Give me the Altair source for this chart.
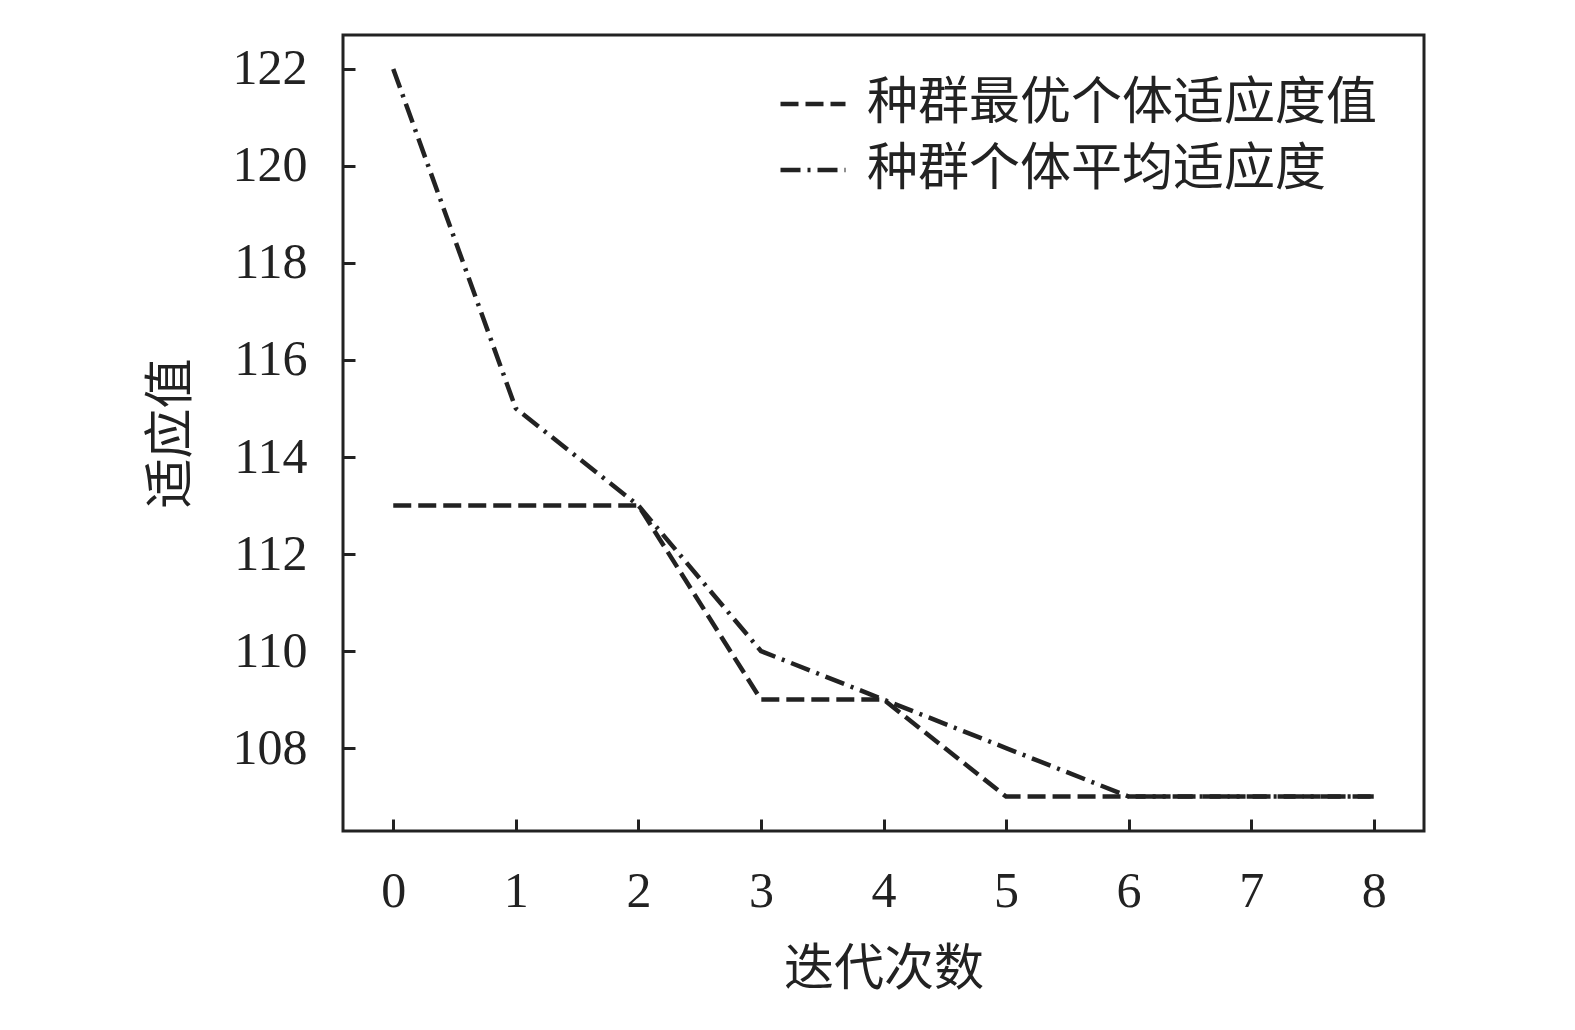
import altair as alt
import pandas as pd

iterations = [0, 1, 2, 3, 4, 5, 6, 7, 8]
best_fitness = [113, 113, 113, 109, 109, 107, 107, 107, 107]
avg_fitness = [122, 115, 113, 110, 109, 108, 107, 107, 107]
series_names = ["种群最优个体适应度值", "种群个体平均适应度"]
y_ticks = [108, 110, 112, 114, 116, 118, 120, 122]

rows = []
for i, v in zip(iterations, best_fitness):
    rows.append({"iter": i, "value": v, "series": series_names[0]})
for i, v in zip(iterations, avg_fitness):
    rows.append({"iter": i, "value": v, "series": series_names[1]})
df = pd.DataFrame(rows)

FONT = "Liberation Serif, Times New Roman, Noto Sans CJK SC"
INK = "#222222"

chart = (
    alt.Chart(df)
    .mark_line(strokeWidth=4.5, color=INK)
    .encode(
        x=alt.X(
            "iter:Q",
            scale=alt.Scale(domain=[-0.41, 8.41], nice=False, zero=False),
            axis=alt.Axis(
                title="迭代次数",
                values=iterations,
                format="d",
                offset=-12,
                tickSize=12,
                tickWidth=3,
                tickColor=INK,
                domain=False,
                grid=False,
                labelFont=FONT,
                labelFontSize=50,
                labelColor=INK,
                labelPadding=35,
                titleFont=FONT,
                titleFontSize=50,
                titleFontWeight="normal",
                titleColor=INK,
                titlePadding=28,
            ),
        ),
        y=alt.Y(
            "value:Q",
            scale=alt.Scale(domain=[106.29, 122.70], nice=False, zero=False),
            axis=alt.Axis(
                title="适应值",
                values=y_ticks,
                format="d",
                offset=-12,
                tickSize=12,
                tickWidth=3,
                tickColor=INK,
                domain=False,
                grid=False,
                labelFont=FONT,
                labelFontSize=50,
                labelColor=INK,
                labelPadding=36,
                titleFont=FONT,
                titleFontSize=50,
                titleFontWeight="normal",
                titleColor=INK,
                titlePadding=36,
            ),
        ),
        strokeDash=alt.StrokeDash(
            "series:N",
            scale=alt.Scale(domain=series_names, range=[[18, 7], [20, 7, 3, 7]]),
            legend=alt.Legend(
                title=None,
                orient="none",
                legendX=435,
                legendY=34,
                symbolType="stroke",
                symbolSize=4225,
                symbolStrokeWidth=4.5,
                symbolStrokeColor=INK,
                labelFont=FONT,
                labelFontSize=51,
                labelColor=INK,
                labelOffset=19,
                rowPadding=6,
                labelLimit=800,
            ),
        ),
        detail="series:N",
    )
    .properties(
        width=1081,
        height=796,
        background="white",
        autosize=alt.AutoSizeParams(type="none"),
        padding={"left": 335, "top": 27, "right": 143, "bottom": 190},
    )
    .configure_view(stroke=INK, strokeWidth=3)
)

chart.save("out.html", embed_options={"renderer": "svg", "actions": False})
